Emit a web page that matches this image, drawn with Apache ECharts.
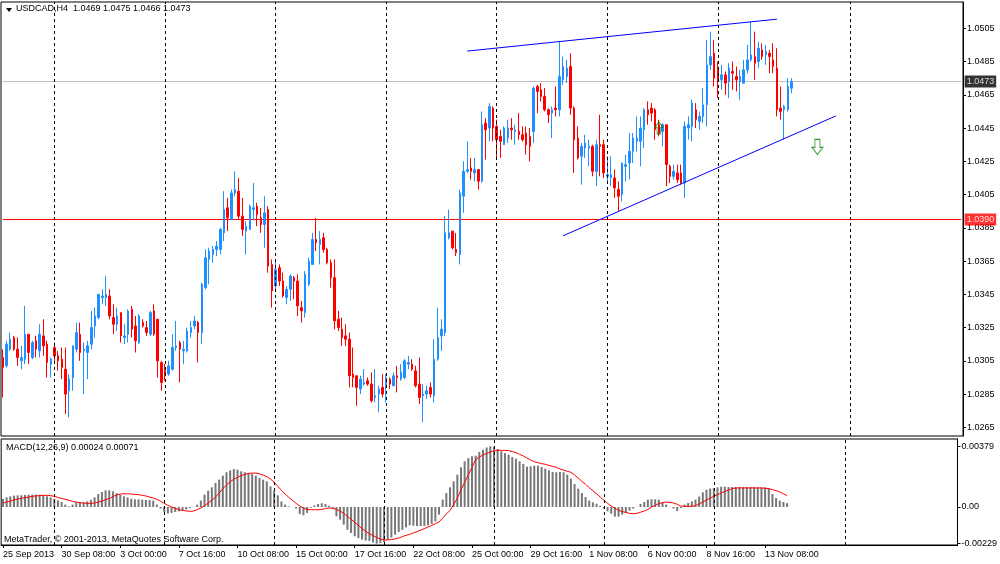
<!DOCTYPE html>
<html>
<head>
<meta charset="utf-8">
<title>USDCAD,H4</title>
<script src="https://cdn.jsdelivr.net/npm/echarts@6/dist/echarts.min.js"></script>
<style>
html, body { margin: 0; padding: 0; background: #fff; }
#chart { width: 1000px; height: 564px; }
</style>
</head>
<body>
<div id="chart"></div>
<script>
// H4 bars, 25 Sep 2013 16:00 .. 14 Nov 2013 08:00
var opens = [1.0307,1.0302,1.0312,1.0319,1.0312,1.0305,1.0306,1.0321,1.0307,1.0317,1.0311,1.0320,1.0315,1.0303,1.0313,1.0308,1.0306,1.0300,1.0287,1.0295,
  1.0312,1.0321,1.0311,1.0310,1.0315,1.0326,1.0331,1.0343,1.0343,1.0344,1.0331,1.0327,1.0334,1.0319,1.0321,1.0336,1.0326,1.0316,1.0328,1.0325,
  1.0321,1.0335,1.0330,1.0304,1.0299,1.0297,1.0300,1.0313,1.0316,1.0311,1.0311,1.0322,1.0326,1.0328,1.0322,1.0349,1.0366,1.0369,1.0372,1.0372,
  1.0382,1.0397,1.0390,1.0406,1.0407,1.0392,1.0383,1.0384,1.0396,1.0398,1.0391,1.0387,1.0396,1.0363,1.0350,1.0361,1.0353,1.0343,1.0348,1.0355,
  1.0353,1.0337,1.0334,1.0351,1.0363,1.0378,1.0375,1.0379,1.0372,1.0364,1.0355,1.0330,1.0324,1.0320,1.0318,1.0297,1.0296,1.0288,1.0291,1.0293,
  1.0291,1.0283,1.0285,1.0289,1.0290,1.0294,1.0290,1.0296,1.0294,1.0295,1.0303,1.0303,1.0299,1.0291,1.0284,1.0285,1.0289,1.0284,1.0306,1.0320,
  1.0322,1.0379,1.0383,1.0372,1.0369,1.0404,1.0419,1.0421,1.0418,1.0420,1.0413,1.0448,1.0445,1.0457,1.0446,1.0440,1.0435,1.0439,1.0445,1.0443,
  1.0443,1.0441,1.0442,1.0440,1.0443,1.0470,1.0468,1.0464,1.0456,1.0454,1.0457,1.0456,1.0474,1.0476,1.0482,1.0457,1.0439,1.0428,1.0433,1.0433,
  1.0434,1.0419,1.0435,1.0435,1.0416,1.0415,1.0415,1.0408,1.0405,1.0422,1.0424,1.0431,1.0437,1.0437,1.0444,1.0456,1.0457,1.0456,1.0447,1.0443,
  1.0447,1.0422,1.0416,1.0418,1.0418,1.0412,1.0445,1.0446,1.0456,1.0449,1.0452,1.0459,1.0483,1.0490,1.0480,1.0474,1.0477,1.0473,1.0479,1.0476,
  1.0473,1.0472,1.0480,1.0486,1.0488,1.0485,1.0492,1.0489,1.0490,1.0486,1.0481,1.0457,1.0456,1.0456,1.0469];
var highs = [1.0312,1.0317,1.0322,1.0320,1.0319,1.0314,1.0338,1.0321,1.0317,1.0320,1.0327,1.0330,1.0317,1.0307,1.0316,1.0311,1.0313,1.0313,1.0297,1.0314,
  1.0328,1.0328,1.0316,1.0317,1.0335,1.0337,1.0345,1.0348,1.0356,1.0348,1.0339,1.0337,1.0334,1.0327,1.0336,1.0338,1.0332,1.0333,1.0330,1.0329,
  1.0335,1.0339,1.0330,1.0305,1.0303,1.0305,1.0321,1.0329,1.0317,1.0317,1.0325,1.0329,1.0332,1.0329,1.0352,1.0372,1.0373,1.0374,1.0377,1.0385,
  1.0407,1.0403,1.0408,1.0419,1.0415,1.0403,1.0389,1.0399,1.0412,1.0400,1.0397,1.0404,1.0398,1.0366,1.0366,1.0363,1.0358,1.0350,1.0357,1.0356,
  1.0357,1.0341,1.0359,1.0367,1.0382,1.0391,1.0383,1.0382,1.0373,1.0366,1.0366,1.0335,1.0331,1.0327,1.0322,1.0313,1.0296,1.0296,1.0300,1.0295,
  1.0298,1.0300,1.0290,1.0297,1.0297,1.0295,1.0298,1.0302,1.0303,1.0306,1.0308,1.0306,1.0302,1.0307,1.0291,1.0290,1.0292,1.0318,1.0337,1.0330,
  1.0392,1.0396,1.0383,1.0382,1.0408,1.0425,1.0437,1.0427,1.0427,1.0420,1.0455,1.0451,1.0460,1.0458,1.0450,1.0444,1.0446,1.0450,1.0451,1.0447,
  1.0454,1.0446,1.0446,1.0445,1.0470,1.0471,1.0472,1.0469,1.0457,1.0458,1.0470,1.0497,1.0488,1.0486,1.0490,1.0458,1.0446,1.0436,1.0441,1.0438,
  1.0435,1.0438,1.0453,1.0438,1.0428,1.0428,1.0420,1.0413,1.0424,1.0429,1.0442,1.0442,1.0452,1.0452,1.0457,1.0461,1.0460,1.0457,1.0450,1.0448,
  1.0447,1.0423,1.0423,1.0423,1.0423,1.0449,1.0452,1.0462,1.0460,1.0455,1.0469,1.0498,1.0503,1.0498,1.0485,1.0483,1.0479,1.0484,1.0485,1.0482,
  1.0480,1.0486,1.0495,1.0509,1.0503,1.0497,1.0496,1.0495,1.0492,1.0496,1.0493,1.0470,1.0459,1.0475,1.0475];
var lows = [1.0283,1.0301,1.0311,1.0311,1.0302,1.0300,1.0303,1.0303,1.0306,1.0307,1.0307,1.0308,1.0295,1.0295,1.0304,1.0299,1.0294,1.0273,1.0271,1.0287,
  1.0310,1.0305,1.0285,1.0294,1.0312,1.0319,1.0330,1.0339,1.0338,1.0330,1.0321,1.0323,1.0316,1.0315,1.0316,1.0319,1.0310,1.0315,1.0325,1.0320,
  1.0320,1.0320,1.0295,1.0287,1.0293,1.0296,1.0299,1.0311,1.0292,1.0303,1.0310,1.0319,1.0324,1.0304,1.0315,1.0348,1.0351,1.0364,1.0368,1.0369,
  1.0377,1.0383,1.0390,1.0404,1.0390,1.0380,1.0369,1.0384,1.0390,1.0386,1.0382,1.0373,1.0358,1.0337,1.0348,1.0350,1.0343,1.0339,1.0341,1.0342,
  1.0332,1.0328,1.0331,1.0350,1.0363,1.0371,1.0363,1.0370,1.0363,1.0349,1.0324,1.0323,1.0314,1.0314,1.0289,1.0289,1.0278,1.0285,1.0290,1.0290,
  1.0280,1.0280,1.0274,1.0283,1.0280,1.0288,1.0290,1.0286,1.0293,1.0294,1.0300,1.0299,1.0289,1.0279,1.0268,1.0282,1.0283,1.0280,1.0305,1.0311,
  1.0320,1.0378,1.0372,1.0368,1.0363,1.0394,1.0418,1.0414,1.0413,1.0408,1.0412,1.0426,1.0437,1.0437,1.0427,1.0427,1.0435,1.0436,1.0438,1.0435,
  1.0438,1.0437,1.0429,1.0425,1.0436,1.0454,1.0461,1.0455,1.0448,1.0439,1.0452,1.0452,1.0471,1.0472,1.0453,1.0418,1.0426,1.0411,1.0427,1.0422,
  1.0416,1.0410,1.0416,1.0415,1.0413,1.0410,1.0403,1.0395,1.0401,1.0413,1.0414,1.0424,1.0431,1.0422,1.0433,1.0447,1.0449,1.0438,1.0440,1.0434,
  1.0410,1.0412,1.0414,1.0412,1.0411,1.0403,1.0438,1.0437,1.0445,1.0444,1.0448,1.0446,1.0480,1.0470,1.0463,1.0468,1.0465,1.0463,1.0468,1.0467,
  1.0462,1.0472,1.0478,1.0485,1.0474,1.0481,1.0486,1.0483,1.0478,1.0478,1.0452,1.0450,1.0438,1.0455,1.0466];
var closes = [1.0301,1.0315,1.0318,1.0312,1.0307,1.0307,1.0321,1.0310,1.0316,1.0312,1.0321,1.0314,1.0304,1.0306,1.0308,1.0305,1.0301,1.0285,1.0294,1.0314,
  1.0322,1.0310,1.0312,1.0314,1.0325,1.0332,1.0345,1.0344,1.0345,1.0332,1.0327,1.0332,1.0320,1.0320,1.0335,1.0324,1.0317,1.0332,1.0326,1.0322,
  1.0334,1.0321,1.0305,1.0292,1.0296,1.0302,1.0313,1.0314,1.0312,1.0312,1.0323,1.0325,1.0329,1.0322,1.0351,1.0367,1.0371,1.0372,1.0374,1.0384,
  1.0396,1.0391,1.0406,1.0408,1.0392,1.0384,1.0386,1.0398,1.0397,1.0393,1.0387,1.0394,1.0362,1.0347,1.0360,1.0353,1.0344,1.0348,1.0356,1.0353,
  1.0338,1.0335,1.0357,1.0365,1.0378,1.0376,1.0378,1.0372,1.0364,1.0355,1.0329,1.0325,1.0319,1.0318,1.0296,1.0295,1.0289,1.0294,1.0292,1.0291,
  1.0281,1.0284,1.0288,1.0285,1.0295,1.0291,1.0296,1.0295,1.0298,1.0305,1.0304,1.0300,1.0290,1.0283,1.0285,1.0287,1.0285,1.0306,1.0319,1.0324,
  1.0382,1.0382,1.0373,1.0370,1.0406,1.0419,1.0420,1.0419,1.0420,1.0413,1.0447,1.0444,1.0458,1.0445,1.0438,1.0437,1.0445,1.0445,1.0444,1.0444,
  1.0441,1.0438,1.0435,1.0434,1.0469,1.0467,1.0464,1.0456,1.0453,1.0456,1.0456,1.0476,1.0482,1.0481,1.0457,1.0438,1.0427,1.0434,1.0436,1.0434,
  1.0419,1.0435,1.0434,1.0418,1.0417,1.0417,1.0409,1.0404,1.0424,1.0423,1.0431,1.0439,1.0439,1.0445,1.0456,1.0453,1.0454,1.0444,1.0442,1.0447,
  1.0423,1.0416,1.0419,1.0414,1.0412,1.0446,1.0447,1.0460,1.0450,1.0452,1.0459,1.0483,1.0488,1.0475,1.0474,1.0477,1.0472,1.0481,1.0478,1.0474,
  1.0476,1.0480,1.0486,1.0489,1.0484,1.0493,1.0488,1.0491,1.0488,1.0482,1.0456,1.0455,1.0458,1.0470,1.0473];

// MACD(12,26,9): main (histogram) and signal line
var macdMain = [0.00050,0.00060,0.00067,0.00071,0.00073,0.00073,0.00075,0.00077,0.00077,0.00077,0.00077,0.00073,0.00067,0.00060,0.00052,0.00042,0.00031,0.00015,0.00004,0.00015,
  0.00029,0.00031,0.00029,0.00035,0.00044,0.00060,0.00081,0.00094,0.00104,0.00104,0.00098,0.00087,0.00077,0.00067,0.00060,0.00052,0.00048,0.00048,0.00046,0.00044,
  0.00044,0.00040,0.00015,-0.00010,-0.00031,-0.00040,-0.00037,-0.00031,-0.00027,-0.00023,-0.00015,-0.00006,0.00002,0.00015,0.00040,0.00077,0.00102,0.00123,0.00150,0.00171,
  0.00196,0.00217,0.00229,0.00237,0.00233,0.00223,0.00217,0.00212,0.00206,0.00196,0.00181,0.00171,0.00160,0.00129,0.00102,0.00073,0.00035,0.00015,0.00004,0.00001,
  -0.00010,-0.00044,-0.00052,-0.00037,-0.00006,0.00010,0.00019,0.00023,0.00019,0.00008,-0.00006,-0.00058,-0.00079,-0.00110,-0.00142,-0.00162,-0.00183,-0.00194,-0.00204,-0.00210,
  -0.00212,-0.00222,-0.00229,-0.00226,-0.00218,-0.00204,-0.00190,-0.00173,-0.00156,-0.00142,-0.00127,-0.00115,-0.00117,-0.00119,-0.00119,-0.00119,-0.00115,-0.00106,-0.00090,-0.00048,
  0.00046,0.00087,0.00123,0.00160,0.00202,0.00248,0.00285,0.00306,0.00317,0.00321,0.00344,0.00358,0.00372,0.00379,0.00377,0.00362,0.00348,0.00337,0.00327,0.00312,
  0.00302,0.00285,0.00269,0.00252,0.00254,0.00258,0.00258,0.00250,0.00240,0.00229,0.00219,0.00217,0.00219,0.00217,0.00202,0.00177,0.00144,0.00115,0.00087,0.00062,
  0.00040,0.00029,0.00021,0.00008,-0.00010,-0.00027,-0.00042,-0.00060,-0.00060,-0.00048,-0.00037,-0.00023,-0.00010,0.00001,0.00019,0.00031,0.00046,0.00048,0.00048,0.00046,
  0.00029,0.00015,-0.00001,-0.00010,-0.00025,-0.00006,0.00015,0.00025,0.00035,0.00046,0.00065,0.00092,0.00108,0.00115,0.00119,0.00123,0.00127,0.00127,0.00125,0.00125,
  0.00125,0.00125,0.00125,0.00125,0.00125,0.00125,0.00123,0.00123,0.00123,0.00119,0.00081,0.00056,0.00040,0.00031,0.00024];
var macdSignal = [0.00025,0.00031,0.00037,0.00044,0.00050,0.00054,0.00058,0.00062,0.00067,0.00069,0.00071,0.00073,0.00073,0.00071,0.00067,0.00060,0.00054,0.00048,0.00042,0.00035,
  0.00031,0.00027,0.00025,0.00023,0.00023,0.00025,0.00031,0.00037,0.00046,0.00052,0.00065,0.00075,0.00081,0.00083,0.00083,0.00081,0.00079,0.00077,0.00073,0.00069,
  0.00062,0.00056,0.00048,0.00037,0.00023,0.00010,0.00000,-0.00008,-0.00017,-0.00021,-0.00025,-0.00027,-0.00025,-0.00017,-0.00006,0.00008,0.00025,0.00042,0.00062,0.00087,
  0.00115,0.00137,0.00158,0.00173,0.00185,0.00196,0.00204,0.00210,0.00212,0.00212,0.00208,0.00200,0.00190,0.00175,0.00154,0.00129,0.00104,0.00081,0.00060,0.00042,
  0.00023,0.00006,-0.00006,-0.00015,-0.00017,-0.00017,-0.00017,-0.00015,-0.00010,-0.00006,-0.00008,-0.00015,-0.00025,-0.00040,-0.00058,-0.00077,-0.00096,-0.00115,-0.00135,-0.00152,
  -0.00167,-0.00179,-0.00190,-0.00200,-0.00206,-0.00206,-0.00204,-0.00200,-0.00194,-0.00185,-0.00177,-0.00171,-0.00162,-0.00154,-0.00144,-0.00135,-0.00125,-0.00115,-0.00104,-0.00094,
  -0.00069,-0.00044,-0.00021,0.00015,0.00056,0.00108,0.00154,0.00202,0.00248,0.00296,0.00312,0.00325,0.00335,0.00344,0.00350,0.00354,0.00354,0.00354,0.00352,0.00346,
  0.00340,0.00329,0.00319,0.00306,0.00294,0.00283,0.00277,0.00271,0.00267,0.00260,0.00254,0.00248,0.00237,0.00231,0.00223,0.00217,0.00200,0.00181,0.00160,0.00142,
  0.00121,0.00102,0.00083,0.00062,0.00042,0.00023,0.00006,-0.00008,-0.00021,-0.00029,-0.00033,-0.00040,-0.00042,-0.00040,-0.00033,-0.00025,-0.00015,0.00000,0.00010,0.00021,
  0.00027,0.00031,0.00029,0.00025,0.00017,0.00006,0.00004,0.00004,0.00004,0.00008,0.00019,0.00031,0.00044,0.00056,0.00067,0.00077,0.00087,0.00098,0.00106,0.00115,
  0.00119,0.00119,0.00119,0.00119,0.00119,0.00119,0.00119,0.00119,0.00117,0.00115,0.00108,0.00102,0.00094,0.00083,0.00071];

// axis texts
var timeLabels = ['25 Sep 2013', '30 Sep 08:00', '3 Oct 00:00', '7 Oct 16:00', '10 Oct 08:00', '15 Oct 00:00', '17 Oct 16:00',
  '22 Oct 08:00', '25 Oct 00:00', '29 Oct 16:00', '1 Nov 08:00', '6 Nov 00:00', '8 Nov 16:00', '13 Nov 08:00'];
var labelStep = 16;
var priceTicks = [1.0265, 1.0285, 1.0305, 1.0325, 1.0345, 1.0365, 1.0385, 1.0405, 1.0425, 1.0445, 1.0465, 1.0485, 1.0505];
var macdTicks = [0.00379, 0, -0.00229];
var macdTickText = ['0.00379', '0.00', '-0.00229'];

// week separators (bar index), price levels and drawn objects
var weekBars = [14, 44, 74, 104, 134, 164, 194, 230];
var lastPrice = 1.0473;
var levelPrice = 1.0390;
var trendUpper = [[126, 1.04913], [210, 1.05105]];
var trendLower = [[152, 1.03802], [226, 1.04523]];
var arrowDown = [[221, 1.04337]];
var arrowUp = [[178, 1.04451]];

var totalSlots = 261; // bars + empty space on the right
var cats = [];
for (var i = 0; i < totalSlots; i++) cats.push(String(i));

var candles = opens.map(function (o, k) {
  return [o, closes[k], lows[k], highs[k]];
});

var FONT = '"Liberation Sans", Arial, sans-serif';
var BULL = '#1e90ff', BEAR = '#ff0000';
var LEVEL_RED = 'rgb(255, 0, 0)';

function weekMarks() {
  return weekBars.map(function (b) {
    return { xAxis: b, lineStyle: { color: '#000', width: 1, type: [3, 3] } };
  });
}

function showTime(index) {
  return index % labelStep === 0 && index / labelStep < timeLabels.length;
}

// horizontal level across the whole panel
function levelLine(p, lineColor) {
  return {
    type: 'line', xAxisIndex: 0, yAxisIndex: 0, symbol: 'none', silent: true, z: 3,
    data: [[0, p], [totalSlots - 1, p]],
    color: lineColor,
    itemStyle: { color: lineColor },
    lineStyle: { color: lineColor, width: 1 }
  };
}
// price box just past the right edge of the panel
function levelBox(p, boxColor) {
  return {
    type: 'scatter', xAxisIndex: 0, yAxisIndex: 0, silent: true, z: 6,
    data: [[totalSlots - 1, p]], symbolSize: 1, itemStyle: { color: 'rgba(0,0,0,0)' },
    label: { show: true, position: 'right', distance: 3, formatter: p.toFixed(4), color: '#fff',
      backgroundColor: boxColor, padding: [2, 2, 1, 2], fontSize: 9, fontFamily: FONT }
  };
}

var chart = echarts.init(document.getElementById('chart'), null, { renderer: 'canvas' });
var option = {
  animation: false,
  backgroundColor: '#fff',
  textStyle: { fontFamily: FONT },
  grid: [
    { left: 1, top: 2, width: 962, height: 434, show: true, borderColor: '#000', borderWidth: 1 },
    { left: 1, top: 439, width: 962, height: 106, show: true, borderColor: '#000', borderWidth: 1 }
  ],
  xAxis: [
    { type: 'category', gridIndex: 0, data: cats, boundaryGap: true,
      axisLine: { show: false }, axisTick: { show: false }, axisLabel: { show: false }, splitLine: { show: false } },
    { type: 'category', gridIndex: 1, data: cats, boundaryGap: true,
      axisLine: { show: true, onZero: false, lineStyle: { color: '#000' } },
      axisTick: { show: true, length: 3, alignWithLabel: true, interval: showTime, lineStyle: { color: '#000' } },
      axisLabel: { interval: showTime, align: 'left', margin: 5, fontSize: 9, color: '#000', fontFamily: FONT,
        formatter: function (v) { return timeLabels[Number(v) / labelStep]; } },
      splitLine: { show: false } }
  ],
  yAxis: [
    // range chosen so the two level lines fall on whole pixel rows
    { type: 'value', gridIndex: 0, position: 'right', min: 1.025978, max: 1.052082,
      axisLine: { show: true, lineStyle: { color: '#000' } },
      axisTick: { show: true, length: 3, customValues: priceTicks, lineStyle: { color: '#000' } },
      axisLabel: { customValues: priceTicks, margin: 4, fontSize: 9, color: '#000', fontFamily: FONT,
        formatter: function (v) { return v.toFixed(4); } },
      splitLine: { show: false } },
    { type: 'value', gridIndex: 1, position: 'right', min: -0.002375, max: 0.00425,
      axisLine: { show: true, lineStyle: { color: '#000' } },
      axisTick: { show: true, length: 3, customValues: macdTicks, lineStyle: { color: '#000' } },
      axisLabel: { customValues: macdTicks, margin: 4, fontSize: 9, color: '#000', fontFamily: FONT,
        formatter: function (v) {
          var k = macdTicks.indexOf(v);
          return k >= 0 ? macdTickText[k] : '';
        } },
      splitLine: { show: false } }
  ],
  series: [
    levelLine(lastPrice, '#c0c0c0'),
    levelLine(levelPrice, LEVEL_RED),
    levelBox(lastPrice, '#000'),
    levelBox(levelPrice, LEVEL_RED),
    {
      type: 'candlestick', xAxisIndex: 0, yAxisIndex: 0, data: candles, z: 4,
      barWidth: 2,
      itemStyle: { color: BULL, color0: BEAR, borderColor: BULL, borderColor0: BEAR, borderWidth: 1 },
      markLine: {
        silent: true, symbol: ['none', 'none'], animation: false,
        label: { show: false },
        data: weekMarks()
      }
    },
    { type: 'line', xAxisIndex: 0, yAxisIndex: 0, data: trendUpper, symbol: 'none', silent: true, z: 5,
      lineStyle: { color: '#0000ff', width: 1 } },
    { type: 'line', xAxisIndex: 0, yAxisIndex: 0, data: trendLower, symbol: 'none', silent: true, z: 5,
      lineStyle: { color: '#0000ff', width: 1 } },
    { type: 'scatter', xAxisIndex: 0, yAxisIndex: 0, data: arrowDown, silent: true, z: 5,
      symbol: 'path://M3,0 L8,0 L8,8 L11,8 L5.5,15 L0,8 L3,8 Z', symbolSize: [11, 15],
      itemStyle: { color: 'rgba(255,255,255,0)', borderColor: '#008000', borderWidth: 1 } },
    { type: 'scatter', xAxisIndex: 0, yAxisIndex: 0, data: arrowUp, silent: true, z: 5,
      symbol: 'path://M5.5,0 L11,7 L8,7 L8,15 L3,15 L3,7 L0,7 Z', symbolSize: [8, 12],
      itemStyle: { color: 'rgba(255,255,255,0)', borderColor: '#008000', borderWidth: 1 } },
    {
      type: 'bar', xAxisIndex: 1, yAxisIndex: 1, data: macdMain, barWidth: 2,
      itemStyle: { color: '#777' },
      markLine: {
        silent: true, symbol: ['none', 'none'], animation: false,
        label: { show: false },
        data: weekMarks()
      }
    },
    { type: 'line', xAxisIndex: 1, yAxisIndex: 1, data: macdSignal, symbol: 'none', silent: true,
      lineStyle: { color: '#ff0000', width: 1 } }
  ],
  graphic: [
    { type: 'polygon', shape: { points: [[6, 8], [12, 8], [9, 12]] }, style: { fill: '#000' } },
    { type: 'text', left: 16, top: 4, style: { text: 'USDCAD,H4  1.0469 1.0475 1.0466 1.0473',
      font: '9px ' + FONT, fill: '#000' } },
    { type: 'text', left: 6, top: 443, style: { text: 'MACD(12,26,9) 0.00024 0.00071',
      font: '9px ' + FONT, fill: '#000' } },
    { type: 'text', left: 4, top: 535, style: { text: 'MetaTrader, \u00a9 2001-2013, MetaQuotes Software Corp.',
      font: '9px ' + FONT, fill: '#000' } }
  ]
};
chart.setOption(option);
</script>
</body>
</html>
